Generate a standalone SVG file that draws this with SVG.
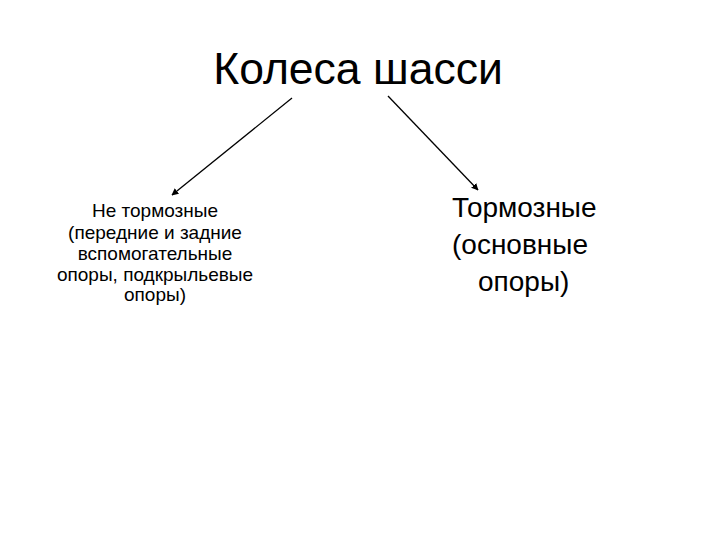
<svg xmlns="http://www.w3.org/2000/svg" width="720" height="540" viewBox="0 0 720 540">
<style>
.t{font-family:"Liberation Sans",Arial,sans-serif;fill:#000}
.c{stroke:#000;stroke-width:1.3;fill:none;marker-end:url(#ah)}
</style>
<defs>
<marker id="ah" viewBox="0 0 10 10" refX="9" refY="5" markerWidth="7" markerHeight="7" markerUnits="userSpaceOnUse" orient="auto">
<path d="M0,0 L10,5 L0,10 z" fill="#000"/>
</marker>
</defs>
<rect width="720" height="540" fill="#fff"/>
<g id="title"><text class="t" x="358" y="84" font-size="44.5" text-anchor="middle">Колеса шасси</text></g>
<g id="connectors">
<line class="c" x1="292" y1="98" x2="172" y2="195"/>
<line class="c" x1="388" y1="96" x2="478" y2="190"/>
</g>
<g id="left" font-size="19" text-anchor="middle">
<text class="t" x="155" y="217">Не тормозные</text>
<text class="t" x="155" y="239">(передние и задние</text>
<text class="t" x="155" y="260">вспомогательные</text>
<text class="t" x="155" y="281">опоры, подкрыльевые</text>
<text class="t" x="155" y="301">опоры)</text>
</g>
<g id="right" font-size="28">
<text class="t" x="452" y="217">Тормозные</text>
<text class="t" x="452" y="254">(основные</text>
<text class="t" x="478" y="291">опоры)</text>
</g>
</svg>
